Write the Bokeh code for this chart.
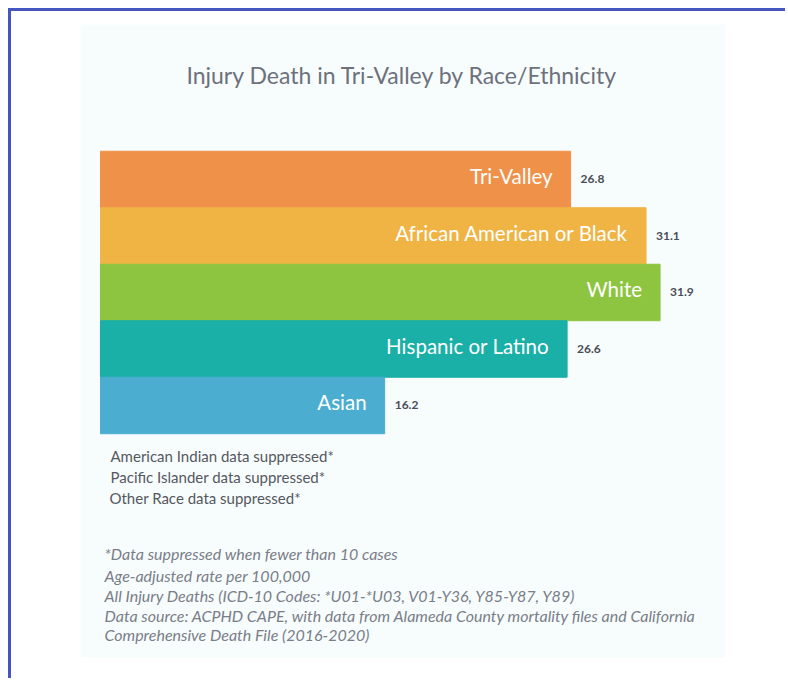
from bokeh.plotting import figure
from bokeh.models import Range1d, Label, ColumnDataSource
from bokeh.core.properties import value
from bokeh.embed import file_html
from bokeh.resources import INLINE

categories = ["Tri-Valley", "African American or Black", "White", "Hispanic or Latino", "Asian"]
rates = [26.8, 31.1, 31.9, 26.6, 16.2]
rate_labels = ["26.8", "31.1", "31.9", "26.6", "16.2"]
colors = ["#f0914a", "#f0b445", "#8dc540", "#1aafa7", "#4baed0"]
title_text = "Injury Death in Tri-Valley by Race/Ethnicity"
suppressed = ["American Indian data suppressed*",
              "Pacific Islander data suppressed*",
              "Other Race data suppressed*"]
footnotes = ["*Data suppressed when fewer than 10 cases",
             "Age-adjusted rate per 100,000",
             "All Injury Deaths (ICD-10 Codes: *U01-*U03, V01-Y36, Y85-Y87, Y89)",
             "Data source: ACPHD CAPE, with data from Alameda County mortality files and California",
             "Comprehensive Death File (2016-2020)"]

idx = list(range(len(categories)))
src = ColumnDataSource(dict(y=idx, right=rates, cat=categories, lab=rate_labels, color=colors))

p = figure(width=777, height=670, output_backend="svg", toolbar_location=None,
           x_range=Range1d(-1.14, 35.63), y_range=Range1d(8.46, -2.743),
           min_border_left=69, min_border_right=63, min_border_top=13, min_border_bottom=24)
p.axis.visible = False
p.grid.visible = False
p.outline_line_color = None
p.background_fill_color = "#f7fcfd"
p.border_fill_color = "white"
p.styles = {"margin-left": "8px", "margin-top": "8px",
            "border-left": "3px solid #4656c0", "border-top": "3px solid #4656c0"}

p.hbar(y="y", left=0, right="right", height=1.0, color="color", source=src)
p.text(x="right", y="y", text="cat", source=src, x_offset=-18, y_offset=-3,
       text_align="right", text_baseline="middle", text_color="white",
       text_font=value("Lato"), text_font_size="20.5px")
p.text(x="right", y="y", text="lab", source=src, x_offset=10,
       text_align="left", text_baseline="middle", text_color="#4a4d55",
       text_font=value("Lato"), text_font_size="12px", text_font_style="bold")

p.add_layout(Label(x=322, y=583, x_units="screen", y_units="screen", text=title_text,
                   text_align="center", text_baseline="middle", text_color="#6d717c",
                   text_font="Lato", text_font_size="23px"))

for i, (t, yy) in enumerate(zip(suppressed, [202, 181, 160])):
    p.add_layout(Label(x=30 if i < 2 else 29, y=yy, x_units="screen", y_units="screen", text=t,
                       text_align="left", text_baseline="middle", text_color="#55585e",
                       text_font="Lato", text_font_size="15px"))

for t, yy in zip(footnotes, [104, 82, 62, 42, 23]):
    p.add_layout(Label(x=24, y=yy, x_units="screen", y_units="screen", text=t,
                       text_align="left", text_baseline="middle", text_color="#7a7e88",
                       text_font="Lato", text_font_size="16px", text_font_style="italic"))

open("out.html", "w").write(file_html(p, INLINE))
